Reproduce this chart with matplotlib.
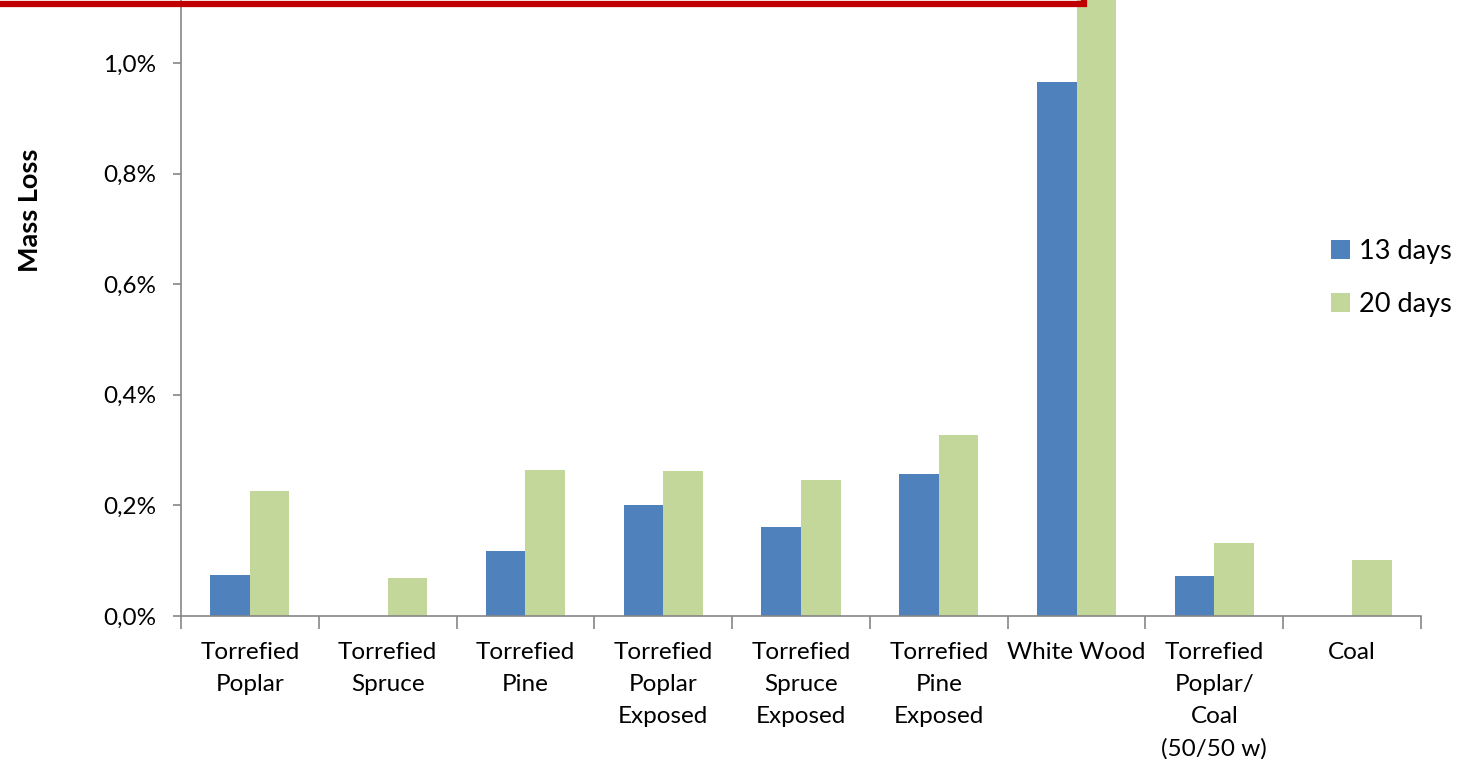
import numpy as np
import matplotlib.pyplot as plt
from matplotlib.patches import Rectangle
from matplotlib.ticker import FuncFormatter

plt.rcParams['font.family'] = ['Lato', 'DejaVu Sans']

categories = ["Torrefied\nPoplar", "Torrefied\nSpruce", "Torrefied\nPine",
              "Torrefied\nPoplar\nExposed", "Torrefied\nSpruce\nExposed",
              "Torrefied\nPine\nExposed", "White Wood",
              "Torrefied\nPoplar/\nCoal\n(50/50 w)", "Coal"]
days13 = [0.074, 0.0, 0.118, 0.201, 0.161, 0.257, 0.966, 0.072, 0.0]
days20 = [0.226, 0.069, 0.264, 0.262, 0.246, 0.327, 1.20, 0.132, 0.101]

blue = '#4F81BD'
green = '#C4D79B'
axis_gray = '#868686'

fig = plt.figure(figsize=(14.61, 7.59), dpi=100)
# axes: left 181px, right 1421px, bottom 616px (from top), top at image top
W, H = 1461, 759
ax = fig.add_axes([181 / W, (H - 616) / H, (1421 - 181) / W, 616 / H])

x = np.arange(len(categories))
w = 0.287
ax.bar(x - w / 2, days13, w, color=blue, label='13 days')
ax.bar(x + w / 2, days20, w, color=green, label='20 days')

ax.set_xlim(-0.5, len(categories) - 0.5)
ax.set_ylim(0, 1.114)
ax.set_yticks([0, 0.2, 0.4, 0.6, 0.8, 1.0])
ax.yaxis.set_major_formatter(FuncFormatter(lambda v, p: f"{v:.1f}%".replace('.', ',')))

ax.set_xticks(np.arange(len(categories) + 1) - 0.5)
ax.set_xticklabels([])
ax.set_xticks(x, minor=True)
ax.set_xticklabels(categories, minor=True, fontsize=17.5, linespacing=1.63, va='top')
ax.tick_params(axis='x', which='minor', length=0, pad=19)
ax.tick_params(axis='x', which='major', length=9, width=1.2, color=axis_gray, direction='out')
ax.tick_params(axis='y', length=6, width=1.2, color=axis_gray, labelsize=17.5, pad=12)

for s in ['top', 'right']:
    ax.spines[s].set_visible(False)
for s in ['left', 'bottom']:
    ax.spines[s].set_color(axis_gray)
    ax.spines[s].set_linewidth(1.2)

fig.text(30 / W, 1 - 210 / H, 'Mass Loss', rotation=90, fontsize=19.5,
         fontweight='bold', ha='center', va='center')

fig.legend(loc='center left', bbox_to_anchor=(1331 / W, 1 - 278 / H), frameon=False,
           fontsize=19.5, handlelength=0.7, handleheight=0.7, handletextpad=0.35,
           labelspacing=1.05, borderpad=0, borderaxespad=0)

# red frame overlaid at top
fig.patches.append(Rectangle((-0.02, 1 - 4 / H), 1113 / W, 0.1,
                             transform=fig.transFigure, fill=False,
                             edgecolor='#C00000', linewidth=4.5, clip_on=False))

fig.savefig('out.png', dpi=100)
